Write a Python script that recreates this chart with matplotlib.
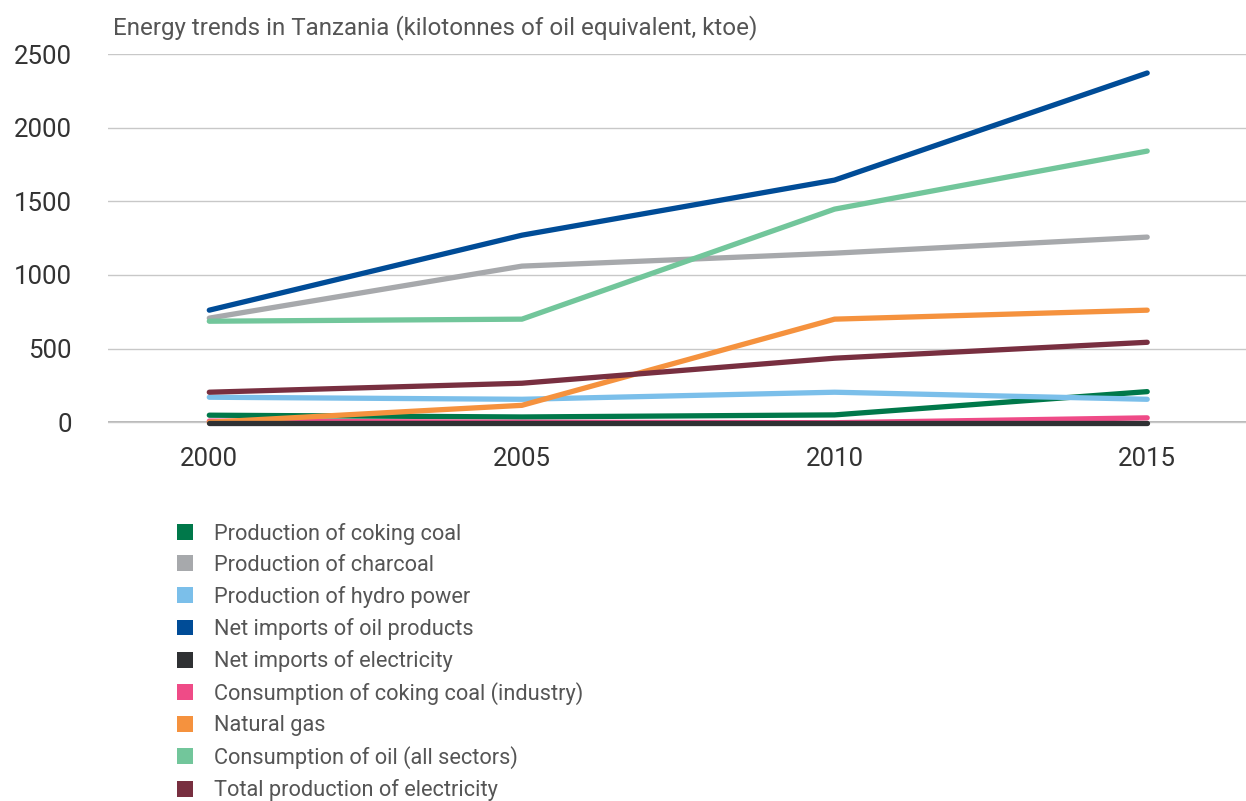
import matplotlib.pyplot as plt
from matplotlib.patches import Patch

years = [2000, 2005, 2010, 2015]

coking_coal_prod = [48, 36, 50, 208]
charcoal_prod = [707, 1060, 1148, 1257]
hydro_prod = [170, 156, 204, 156]
oil_imports = [761, 1270, 1644, 2371]
elec_imports = [-5, -5, -5, -5]
coking_coal_cons = [8, 0, -3, 30]
natural_gas = [0, 115, 700, 761]
oil_cons = [686, 700, 1447, 1841]
elec_total = [204, 265, 435, 543]

labels = [
    "Production of coking coal",
    "Production of charcoal",
    "Production of hydro power",
    "Net imports of oil products",
    "Net imports of electricity",
    "Consumption of coking coal (industry)",
    "Natural gas",
    "Consumption of oil (all sectors)",
    "Total production of electricity",
]
series = [coking_coal_prod, charcoal_prod, hydro_prod, oil_imports, elec_imports,
          coking_coal_cons, natural_gas, oil_cons, elec_total]
colors = ["#00784a", "#a7a9ac", "#7bbfea", "#004c97", "#2f3133",
          "#ef4b87", "#f5923e", "#72c69b", "#782f40"]

plt.rcParams["font.family"] = ["Roboto", "DejaVu Sans"]

fig = plt.figure(figsize=(12.46, 8.01), dpi=100)
ax = fig.add_axes([108 / 1246, 1 - 437 / 801, 1 - 108 / 1246, (437 - 54) / 801])

for vals, c, lab in zip(series, colors, labels):
    # net imports of electricity sits on the zero line, keep it visible on top
    z = 4 if lab == "Net imports of electricity" else 3
    ax.plot(years, vals, color=c, lw=3.8, solid_capstyle="round", zorder=z)

ax.set_xlim(1998.38, 2016.58)
ax.set_ylim(-100, 2500)
ax.set_yticks([0, 500, 1000, 1500, 2000, 2500])
ax.set_xticks(years)
ax.grid(axis="y", color="#c8c8c8", lw=1)
ax.axhline(0, color="#aaaaaa", lw=1.2, zorder=1)
for s in ax.spines.values():
    s.set_visible(False)
ax.tick_params(length=0, labelsize=18.5, labelcolor="#333333")
ax.tick_params(axis="y", pad=26)
ax.tick_params(axis="x", pad=7)

fig.text(113 / 1246, 1 - 28 / 801, "Energy trends in Tanzania (kilotonnes of oil equivalent, ktoe)",
         fontsize=17.4, color="#555555", va="center", ha="left")

handles = [Patch(facecolor=c, edgecolor="none") for c in colors]
fig.legend(handles, labels, loc="upper left", bbox_to_anchor=(177 / 1246, 1 - 523 / 801),
           frameon=False, fontsize=15.7, labelcolor="#555555", handlelength=0.75,
           handleheight=0.75, handletextpad=0.95, labelspacing=0.46, borderaxespad=0,
           borderpad=0)

fig.savefig("out.png", dpi=100)
